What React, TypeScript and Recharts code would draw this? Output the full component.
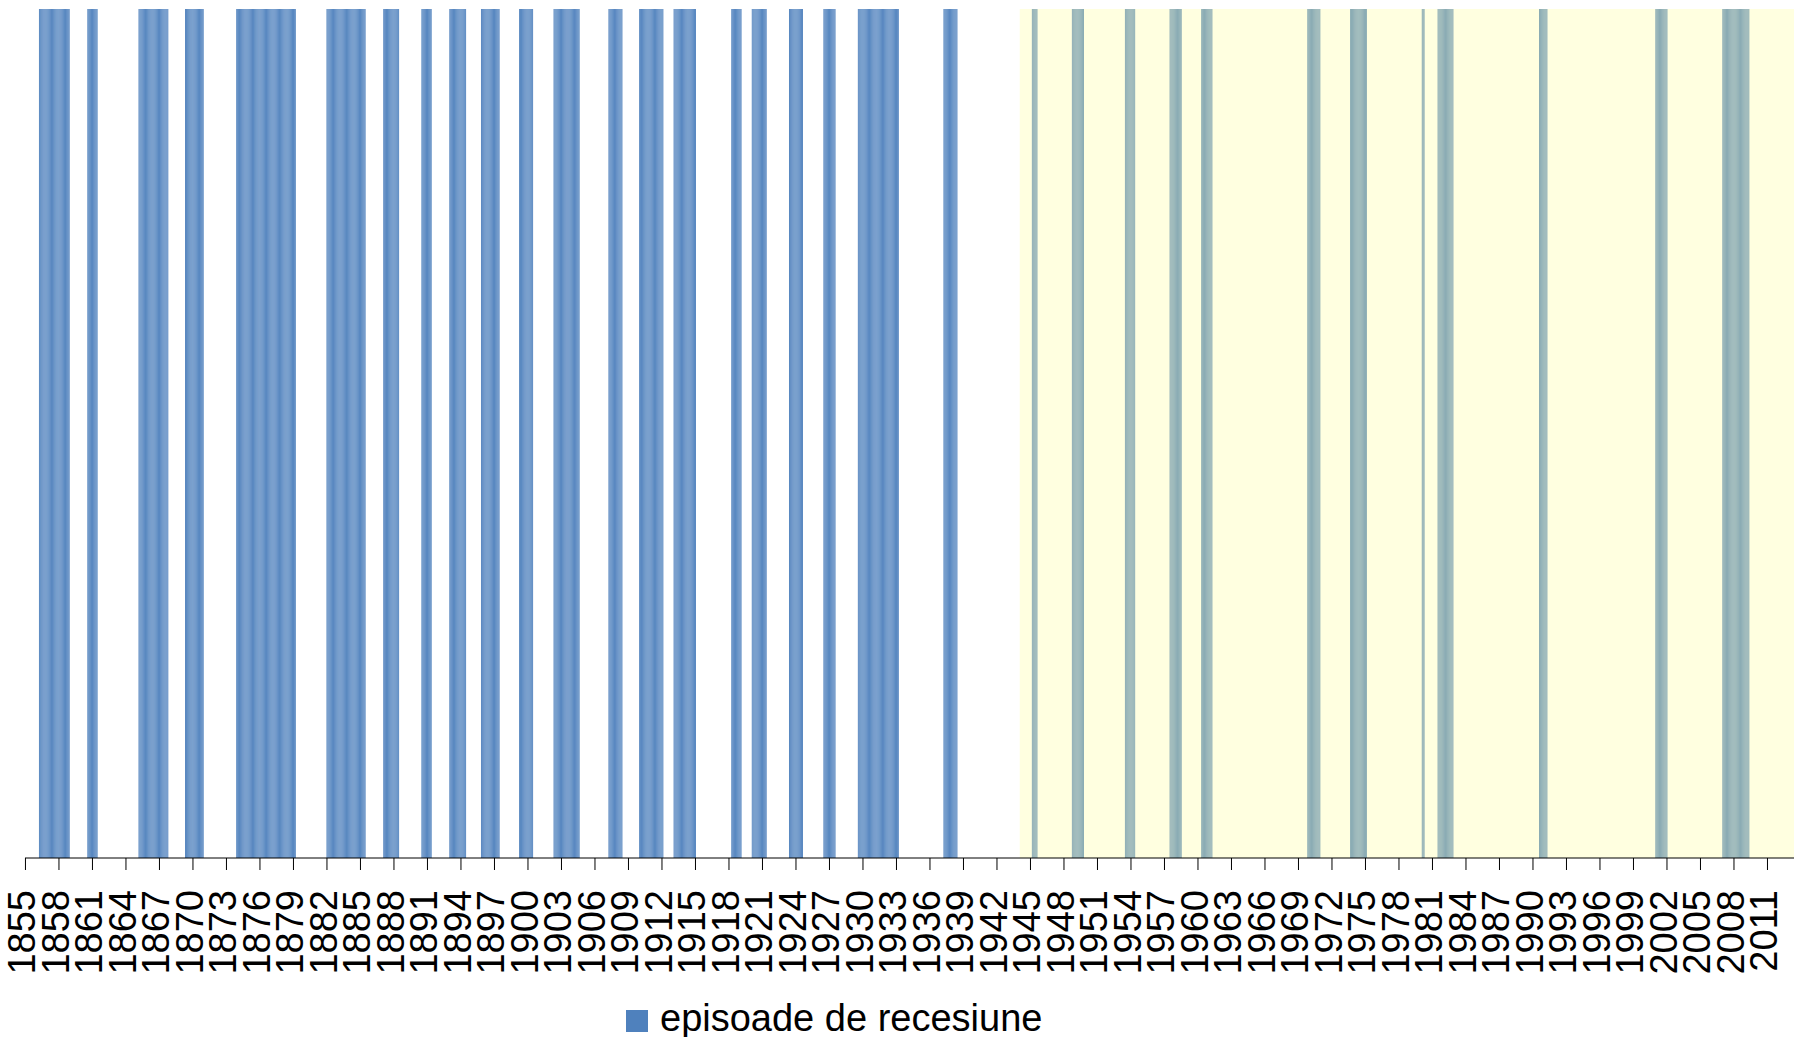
import { BarChart, Bar, XAxis, YAxis, ReferenceArea, Legend } from 'recharts';

// monthly series, Jan 1855 .. May 2013
const firstYear = 1855;
const lastYear = 2013;
const lastMonth = 5;

// recession episodes (first and last month, inclusive)
const recessionStarts = [
  '1856-04', '1860-08', '1865-03', '1869-05', '1873-12', '1882-01', '1887-02', '1890-07',
  '1893-01', '1895-11', '1899-04', '1902-05', '1907-04', '1910-01', '1913-02', '1918-04',
  '1920-02', '1923-06', '1926-07', '1929-08', '1937-04', '1945-03', '1948-10', '1953-07',
  '1957-07', '1960-05', '1969-11', '1973-09', '1980-02', '1981-07', '1990-08', '2001-01',
  '2007-01',
];
const recessionEnds = [
  '1858-12', '1861-06', '1867-10', '1870-12', '1879-03', '1885-06', '1888-06', '1891-05',
  '1894-06', '1897-06', '1900-06', '1904-08', '1908-06', '1912-02', '1915-01', '1919-02',
  '1921-05', '1924-08', '1927-07', '1933-03', '1938-06', '1945-08', '1949-10', '1954-05',
  '1958-07', '1961-04', '1970-12', '1975-02', '1980-04', '1982-11', '1991-04', '2002-01',
  '2009-05',
];

// shaded post-war period
const shadedFrom = '1944-02';

const tickYears = [
  1855, 1858, 1861, 1864, 1867, 1870, 1873, 1876, 1879, 1882, 1885, 1888, 1891, 1894,
  1897, 1900, 1903, 1906, 1909, 1912, 1915, 1918, 1921, 1924, 1927, 1930, 1933, 1936,
  1939, 1942, 1945, 1948, 1951, 1954, 1957, 1960, 1963, 1966, 1969, 1972, 1975, 1978,
  1981, 1984, 1987, 1990, 1993, 1996, 1999, 2002, 2005, 2008, 2011,
];

const seriesName = 'episoade de recesiune';
const barColor = '#4F81BD';
const font = '"Liberation Sans", Arial, sans-serif';

const pad = (m: number) => (m < 10 ? '0' + m : '' + m);

const months: string[] = [];
for (let y = firstYear; y <= lastYear; y++) {
  for (let m = 1; m <= 12; m++) {
    if (y === lastYear && m > lastMonth) break;
    months.push(`${y}-${pad(m)}`);
  }
}

const inRecession = (key: string) =>
  recessionStarts.some((s, i) => key >= s && key <= recessionEnds[i]);

const data = months.map((month) => ({ month, rec: inRecession(month) ? 1 : 0 }));
const tickKeys = tickYears.map((y) => `${y}-01`);

function YearTick({ x, y, payload }: any) {
  return (
    <g transform={`translate(${x},${y}) rotate(-90)`}>
      <text x={0} y={10} textAnchor="end" fontSize={38} fill="#000" fontFamily={font}>
        {String(payload.value).slice(0, 4)}
      </text>
    </g>
  );
}

function LegendBox() {
  return (
    <div style={{ position: 'relative', height: 40, width: 1794 }}>
      <div style={{ position: 'absolute', left: 626, top: 13, width: 22, height: 22, background: barColor }} />
      <div
        style={{
          position: 'absolute',
          left: 660,
          top: -1,
          fontFamily: font,
          fontSize: 38,
          lineHeight: '44px',
          color: '#000',
          whiteSpace: 'nowrap',
        }}
      >
        {seriesName}
      </div>
    </div>
  );
}

export default function App() {
  return (
    <div style={{ position: 'absolute', left: 0, top: 0, width: 1794, height: 1037, background: '#fff' }}>
      <BarChart
        width={1794}
        height={1037}
        data={data}
        margin={{ top: 9, right: 0, left: 25, bottom: 0 }}
        barCategoryGap={0}
        barGap={0}
      >
        <XAxis
          dataKey="month"
          ticks={tickKeys}
          interval={0}
          tick={<YearTick />}
          tickSize={12}
          tickMargin={20}
          height={139}
          axisLine={{ stroke: '#000', strokeWidth: 1 }}
          tickLine={{ stroke: '#000', strokeWidth: 1 }}
        />
        <YAxis hide domain={[0, 1]} />
        <Bar dataKey="rec" name={seriesName} fill={barColor} isAnimationActive={false} />
        <ReferenceArea
          x1={shadedFrom}
          x2={months[months.length - 1]}
          fill="#FFFF99"
          fillOpacity={0.3}
          stroke="none"
          ifOverflow="visible"
          zIndex={350}
        />
        <Legend
          verticalAlign="bottom"
          height={40}
          content={() => <LegendBox />}
          wrapperStyle={{ left: 0, bottom: 0, width: 1794, height: 40 }}
        />
      </BarChart>
    </div>
  );
}
